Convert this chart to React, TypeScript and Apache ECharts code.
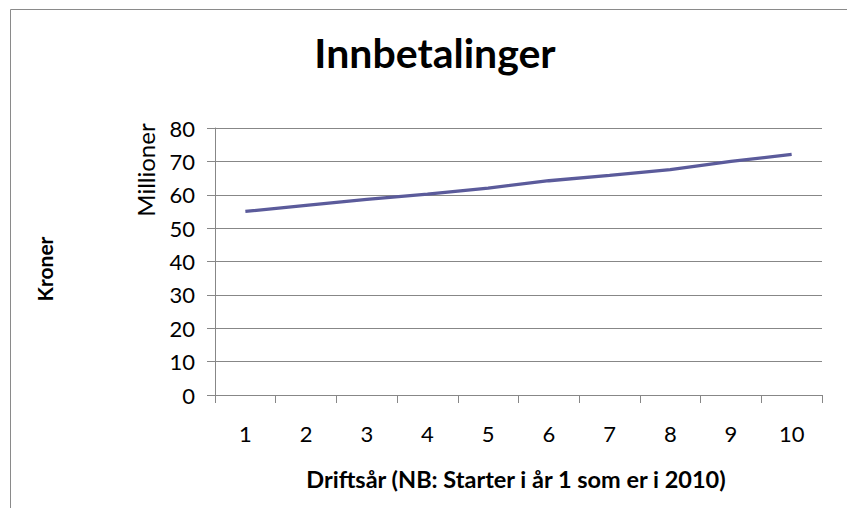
import React, { useEffect, useRef } from "react";
import * as echarts from "echarts";

const categories = ["1", "2", "3", "4", "5", "6", "7", "8", "9", "10"];
const innbetalinger = [55.0, 56.8, 58.6, 60.2, 62.0, 64.2, 65.8, 67.5, 70.0, 72.1];
const yTicks = { min: 0, max: 80, interval: 10 };
const titleText = "Innbetalinger";
const yOuterName = "Kroner";
const yInnerName = "Millioner";
const xName = "Driftsår (NB: Starter i år 1 som er i 2010)";

const FONT = "Lato, 'Noto Sans', sans-serif";
const GRID_COLOR = "#878787";

export default function App() {
  const ref = useRef<HTMLDivElement>(null);
  useEffect(() => {
    if (!ref.current) return;
    const chart = echarts.init(ref.current, undefined, { renderer: "svg" });
    chart.setOption({
      animation: false,
      backgroundColor: "#ffffff",
      title: {
        text: titleText,
        left: 430,
        textAlign: "center",
        top: 27,
        textStyle: { fontFamily: FONT, fontWeight: "bold", fontSize: 41, color: "#000" },
      },
      grid: { left: 215, right: 25, top: 128, bottom: 113, containLabel: false },
      xAxis: {
        type: "category",
        data: categories,
        boundaryGap: true,
        axisLine: { show: true, lineStyle: { color: GRID_COLOR, width: 1 } },
        axisTick: { show: true, length: 8, alignWithLabel: false, lineStyle: { color: GRID_COLOR } },
        axisLabel: { margin: 27, fontSize: 22, color: "#000", fontFamily: FONT },
        splitLine: { show: false },
      },
      yAxis: {
        type: "value",
        min: yTicks.min,
        max: yTicks.max,
        interval: yTicks.interval,
        axisLine: { show: true, lineStyle: { color: GRID_COLOR, width: 1 } },
        axisTick: { show: true, length: 8, lineStyle: { color: GRID_COLOR } },
        axisLabel: { margin: 20, fontSize: 22, color: "#000", fontFamily: FONT },
        splitLine: { show: true, lineStyle: { color: GRID_COLOR, width: 1 } },
      },
      series: [
        {
          type: "line",
          name: titleText,
          data: innbetalinger,
          symbol: "none",
          smooth: false,
          lineStyle: { color: "#5B5B9B", width: 3.3 },
        },
      ],
      graphic: [
        {
          type: "polyline",
          shape: { points: [[10.5, 508], [10.5, 9.5], [847, 9.5]] },
          style: { stroke: "#8a8a8a", lineWidth: 1, fill: "none" },
          silent: true,
        },
        {
          type: "text",
          x: 44,
          y: 269,
          rotation: Math.PI / 2,
          style: {
            text: yOuterName,
            fontFamily: FONT,
            fontWeight: "bold",
            fontSize: 21,
            fill: "#000",
            textAlign: "center",
            textVerticalAlign: "middle",
          },
        },
        {
          type: "text",
          x: 145,
          y: 170,
          rotation: Math.PI / 2,
          style: {
            text: yInnerName,
            fontFamily: FONT,
            fontSize: 24,
            fill: "#000",
            textAlign: "center",
            textVerticalAlign: "middle",
          },
        },
        {
          type: "text",
          x: 516,
          y: 479,
          style: {
            text: xName,
            fontFamily: FONT,
            fontWeight: "bold",
            fontSize: 23.5,
            fill: "#000",
            textAlign: "center",
            textVerticalAlign: "middle",
          },
        },
      ],
    });
    return () => chart.dispose();
  }, []);
  return (
    <div
      ref={ref}
      style={{ position: "absolute", left: 0, top: 0, width: 847, height: 508, background: "#fff" }}
    />
  );
}
